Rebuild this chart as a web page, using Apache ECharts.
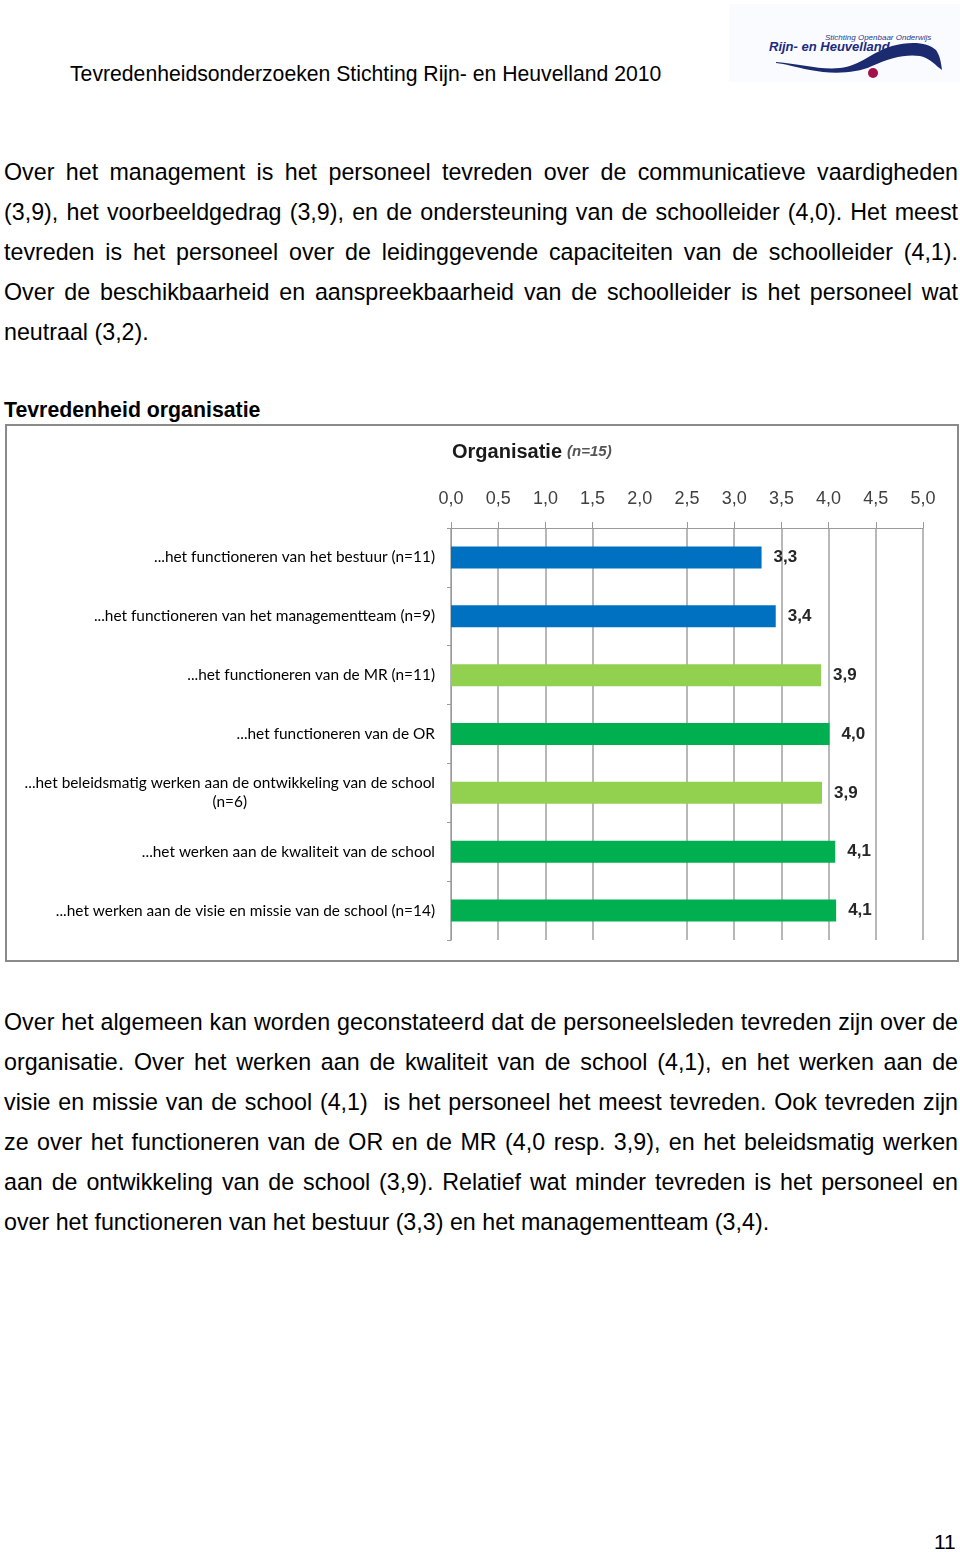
<!DOCTYPE html>
<html><head><meta charset="utf-8">
<script src="https://cdn.jsdelivr.net/npm/echarts@6/dist/echarts.min.js"></script>
<style>
html,body{margin:0;padding:0;background:#fff;}
body{width:960px;height:1552px;position:relative;overflow:hidden;font-family:"Liberation Sans",Arial,sans-serif;color:#000;}
.hdr{position:absolute;left:70px;top:62px;font-size:21.2px;line-height:24px;white-space:nowrap;}
.ln{position:absolute;left:4px;width:954px;font-size:23.25px;line-height:40px;height:40px;text-align:justify;text-align-last:justify;}
.ln.last{text-align:left;text-align-last:left;}
.h2{position:absolute;left:4px;top:396px;font-size:21.3px;font-weight:bold;line-height:28px;white-space:nowrap;}
#chart{position:absolute;left:5px;top:424px;width:954px;height:538px;border:2px solid #8a8a8a;box-sizing:border-box;}
.pg{position:absolute;left:934px;top:1530px;font-size:21px;line-height:24px;}
#logo{position:absolute;left:728px;top:0px;width:232px;height:90px;}
</style></head>
<body>
<svg id="logo" viewBox="728 0 232 90" xmlns="http://www.w3.org/2000/svg">
  <rect x="729" y="4" width="231" height="78" fill="#fafbfe"/>
  <text x="825" y="40" font-family="Liberation Sans, Arial" font-style="italic" font-size="8" fill="#2b3a8c">Stichting Openbaar Onderwijs</text>
  <text x="769" y="51" font-family="Liberation Sans, Arial" font-style="italic" font-weight="bold" font-size="13" fill="#1c2a80">Rijn- en Heuvelland</text>
  <path d="M776 62 C800 64 820 70 840 68 C860 66 872 52 892 46 C910 41 928 42 936 50 C940 56 941 62 942 70 C936 66 930 58 920 56 C905 54 890 58 872 66 C855 74 830 74 810 70 C795 67 785 64 776 63 Z" fill="#1c2a70"/>
  <circle cx="873" cy="73" r="5" fill="#a3124a"/>
</svg>
<div class="hdr">Tevredenheidsonderzoeken Stichting Rijn- en Heuvelland 2010</div>

<div class="ln" style="top:152px">Over het management is het personeel tevreden over de communicatieve vaardigheden</div>
<div class="ln" style="top:192px">(3,9), het voorbeeldgedrag (3,9), en de ondersteuning van de schoolleider (4,0). Het meest</div>
<div class="ln" style="top:232px">tevreden is het personeel over de leidinggevende capaciteiten van de schoolleider (4,1).</div>
<div class="ln" style="top:272px">Over de beschikbaarheid en aanspreekbaarheid van de schoolleider is het personeel wat</div>
<div class="ln last" style="top:312px">neutraal (3,2).</div>

<div class="h2">Tevredenheid organisatie</div>
<div id="chart"></div>

<div class="ln" style="top:1002px">Over het algemeen kan worden geconstateerd dat de personeelsleden tevreden zijn over de</div>
<div class="ln" style="top:1042px">organisatie. Over het werken aan de kwaliteit van de school (4,1), en het werken aan de</div>
<div class="ln" style="top:1082px">visie en missie van de school (4,1)&nbsp; is het personeel het meest tevreden. Ook tevreden zijn</div>
<div class="ln" style="top:1122px">ze over het functioneren van de OR en de MR (4,0 resp. 3,9), en het beleidsmatig werken</div>
<div class="ln" style="top:1162px">aan de ontwikkeling van de school (3,9). Relatief wat minder tevreden is het personeel en</div>
<div class="ln last" style="top:1202px">over het functioneren van het bestuur (3,3) en het managementteam (3,4).</div>

<div class="pg">11</div>

<script>
const chartTitle = 'Organisatie';
const chartSubtitle = '(n=15)';
const categories = [
  '...het functioneren van het bestuur (n=11)',
  '...het functioneren van het managementteam (n=9)',
  '...het functioneren van de MR (n=11)',
  '...het functioneren van de OR',
  '...het beleidsmatig werken aan de ontwikkeling van de school\n(n=6)',
  '...het werken aan de kwaliteit van de school',
  '...het werken aan de visie en missie van de school (n=14)'
];
const scores = [3.29, 3.44, 3.92, 4.01, 3.93, 4.07, 4.08];
const scoreLabels = ['3,3', '3,4', '3,9', '4,0', '3,9', '4,1', '4,1'];
const axisMin = 0;
const axisMax = 5;
const axisStep = 0.5;
// gridline / tick positions visible in the reference (the 2,0 line is absent there)
const gridValues = [0, 0.5, 1, 1.5, 2.5, 3, 3.5, 4, 4.5, 5];

const BLUE = '#0070C0', LIGHTGREEN = '#92D050', GREEN = '#00B050';
const barColors = [BLUE, BLUE, LIGHTGREEN, GREEN, LIGHTGREEN, GREEN, GREEN];

const chart = echarts.init(document.getElementById('chart'), null, {renderer: 'canvas'});
const labelFont = 'Lato, "Open Sans", sans-serif';
const arial = '"Liberation Sans", Arial, sans-serif';
chart.setOption({
  animation: false,
  backgroundColor: '#ffffff',
  title: {
    text: '{b|' + chartTitle + '} {i|' + chartSubtitle + '}',
    left: 440, top: 11,
    textStyle: {
      rich: {
        b: {fontFamily: arial, fontWeight: 'bold', fontSize: 20, color: '#1a1a1a'},
        i: {fontFamily: arial, fontStyle: 'italic', fontSize: 15, color: '#555'}
      }
    }
  },
  grid: {left: 444, top: 102, right: 34, bottom: 20, containLabel: false},
  xAxis: {
    type: 'value', position: 'top', min: axisMin, max: axisMax, interval: axisStep,
    axisLine: {show: true, lineStyle: {color: '#9a9a9a', width: 1}},
    axisTick: {show: true, length: 6, customValues: gridValues, lineStyle: {color: '#9a9a9a'}},
    splitLine: {show: true, lineStyle: {color: '#a0a0a0', width: 1.5}},
    axisLabel: {
      margin: 20, fontSize: 18, color: '#404040', fontFamily: arial,
      formatter: v => v.toFixed(1).replace('.', ',')
    }
  },
  yAxis: {
    type: 'category', inverse: true, data: categories,
    axisLine: {show: true, lineStyle: {color: '#9a9a9a', width: 1}},
    axisTick: {show: true, length: 4, lineStyle: {color: '#9a9a9a'}},
    splitLine: {show: false},
    axisLabel: {
      margin: 16, fontSize: 15.4, color: '#000', fontFamily: labelFont,
      formatter: v => {
        const parts = v.split('\n');
        if (parts.length > 1) return '{r|' + parts[0] + '}\n{c|' + parts[1] + '}';
        return '{r|' + v + '}';
      },
      rich: {
        r: {align: 'right', fontSize: 15.4, color: '#000', fontFamily: labelFont, lineHeight: 19},
        c: {align: 'center', fontSize: 15.4, color: '#000', fontFamily: labelFont, lineHeight: 19}
      }
    }
  },
  series: [{
    type: 'bar',
    barWidth: 22,
    data: scores.map((v, i) => ({value: v, itemStyle: {color: barColors[i]}})),
    label: {
      show: true, position: 'right', distance: 12,
      fontFamily: arial, fontWeight: 'bold', fontSize: 17, color: '#262626',
      formatter: p => scoreLabels[p.dataIndex]
    }
  }]
});
</script>
</body></html>
